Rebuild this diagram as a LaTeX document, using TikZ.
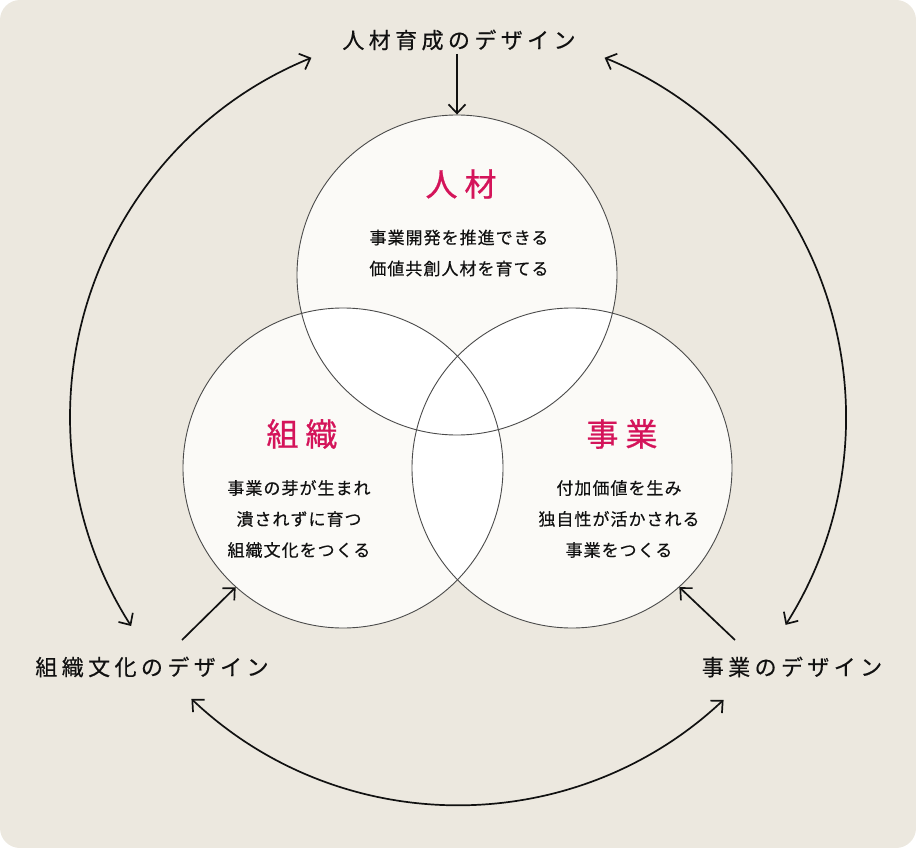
\documentclass[tikz,border=0pt]{standalone}
\usepackage{fontspec}
\setmainfont{Noto Sans CJK JP}
\newfontfamily\jpwide[LetterSpace=20,FakeBold=0.4]{Noto Sans CJK JP}
\newfontfamily\jptitle[LetterSpace=22,FakeBold=0.8]{Noto Sans CJK JP}
\newfontfamily\jpbody[LetterSpace=6,FakeBold=0.4]{Noto Sans CJK JP}
\usetikzlibrary{arrows.meta}
\definecolor{bgc}{HTML}{ECE8DF}
\definecolor{circfill}{HTML}{FBFAF7}
\definecolor{accent}{HTML}{D4145A}
\definecolor{ring}{HTML}{4A4A4A}
\definecolor{ink}{HTML}{111111}
\begin{document}
\begin{tikzpicture}[x=1pt,y=1pt,
  venn/.style={circle, draw=ring, line width=0.9pt, minimum size=320pt, inner sep=0pt},
  ttl/.style={text=accent, inner sep=0pt, font=\fontsize{32}{32}\selectfont\jptitle},
  body/.style={text=ink, align=center, inner sep=0pt, font=\fontsize{17}{31}\selectfont\jpbody},
  outer/.style={text=ink, font=\fontsize{22}{22}\selectfont\jpwide},
  conn/.style={draw=ink, line width=1.7pt, -{Straight Barb[length=9pt,width=17pt]}},
  conn2/.style={draw=ink, line width=1.7pt, {Straight Barb[length=9pt,width=17pt]}-{Straight Barb[length=9pt,width=17pt]}}
]
\fill[bgc, rounded corners=20pt] (0,0) rectangle (916,-848);
\useasboundingbox (0,0) rectangle (916,-848);
\coordinate (cT) at (457,-275);
\coordinate (cL) at (343,-468);
\coordinate (cR) at (572,-468);
\fill[circfill] (cT) circle[radius=160pt] (cL) circle[radius=160pt] (cR) circle[radius=160pt];
\begin{scope}
  \clip (cT) circle[radius=160pt];
  \fill[white] (cL) circle[radius=160pt] (cR) circle[radius=160pt];
\end{scope}
\begin{scope}
  \clip (cL) circle[radius=160pt];
  \fill[white] (cR) circle[radius=160pt];
\end{scope}
\node[venn] (jinzai) at (cT) {};
\node[venn] (soshiki) at (cL) {};
\node[venn] (jigyou) at (cR) {};

\node[ttl] (tT) at (461,-184) {人材};
\node[ttl] (tL) at (302,-434) {組織};
\node[ttl] (tR) at (622,-434) {事業};

\node[body] (bT) at (459,-253) {事業開発を推進できる\\価値共創人材を育てる};
\node[body] (bL) at (299,-519) {事業の芽が生まれ\\潰されずに育つ\\組織文化をつくる};
\node[body] (bR) at (619,-519) {付加価値を生み\\独自性が活かされる\\事業をつくる};

\node[outer] (oT) at (459,-40) {人材育成のデザイン};
\node[outer] (oL) at (152,-667) {組織文化のデザイン};
\node[outer] (oR) at (792,-667) {事業のデザイン};

\coordinate (sL) at (182,-640);
\coordinate (sR) at (735,-640);
\draw[conn] (oT.south -| jinzai.north) -- (jinzai.north);
\draw[conn] (sL) -- (soshiki.228);
\draw[conn] (sR) -- (jigyou.312);

\coordinate (ringc) at (458,-417);
\coordinate (aL) at ([shift={(112.2:388pt)}]ringc);
\coordinate (aB) at ([shift={(226.6:388pt)}]ringc);
\coordinate (aR) at ([shift={(327.6:388pt)}]ringc);
\draw[conn2] (aL) arc[start angle=112.2, end angle=212.6, radius=388pt];
\draw[conn2] (aB) arc[start angle=226.6, end angle=313.2, radius=388pt];
\draw[conn2] (aR) arc[start angle=327.6, end angle=427.8, radius=388pt];
\end{tikzpicture}
\end{document}
